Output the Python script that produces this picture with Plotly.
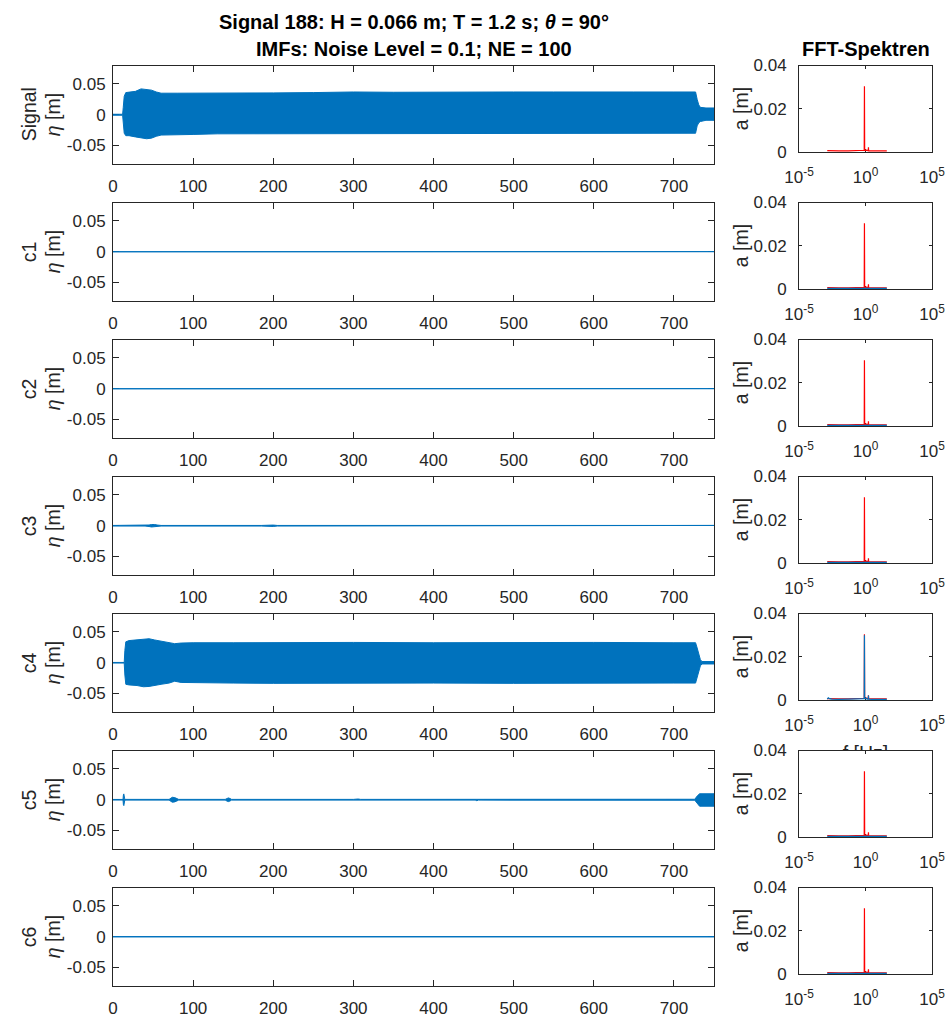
import plotly.graph_objects as go

# ---------------------------------------------------------------- figure setup
W, H = 946, 1019
BLUE = "#0072BD"
RED = "#FF0000"
AX = "#262626"
FONT = "Liberation Sans, Arial, Helvetica, sans-serif"

# ---------------------------------------------------------------- data
row_names = ["Signal", "c1", "c2", "c3", "c4", "c5", "c6"]

time_ticks = [0, 100, 200, 300, 400, 500, 600, 700]
eta_ticks = [-0.05, 0, 0.05]
eta_ticktext = ["-0.05", "0", "0.05"]
amp_ticks = [0, 0.02, 0.04]
amp_ticktext = ["0", "0.02", "0.04"]
freq_ticks = [1e-5, 1, 1e5]
freq_ticktext = ["10<sup>-5</sup>", "10<sup>0</sup>", "10<sup>5</sup>"]

# envelopes (upper / lower) of the surface elevation time series, t in s, eta in m
sig_t = [0, 12, 12.8, 14, 16, 20, 28, 35, 42, 48, 54, 60, 80, 100, 130, 160, 200, 250,
         300, 350, 400, 450, 500, 550, 600, 650, 700, 727, 729, 731, 733, 740, 750]
sig_hi = [0.0008, 0.0008, 0.012, 0.030, 0.036, 0.037, 0.038, 0.042, 0.041, 0.040, 0.037,
          0.035, 0.035, 0.035, 0.0345, 0.035, 0.0355, 0.036, 0.037, 0.0365, 0.037, 0.0375,
          0.037, 0.037, 0.0365, 0.037, 0.037, 0.037, 0.025, 0.016, 0.012, 0.011, 0.011]
sig_lo = [-0.0008, -0.0008, -0.012, -0.030, -0.034, -0.034, -0.036, -0.037, -0.039, -0.038,
          -0.035, -0.033, -0.032, -0.032, -0.031, -0.031, -0.031, -0.030, -0.030, -0.031,
          -0.0305, -0.031, -0.0305, -0.030, -0.0305, -0.030, -0.030, -0.030, -0.018, -0.013,
          -0.011, -0.009, -0.009]

c1_t = [0, 750]
c1_hi = [0.0002, 0.0002]
c1_lo = [-0.0002, -0.0002]

c2_t = [0, 750]
c2_hi = [0.0002, 0.0002]
c2_lo = [-0.0002, -0.0002]

c3_t = [0, 40, 45, 48, 50, 52, 55, 60, 185, 190, 195, 200, 205, 750]
c3_hi = [0.0005, 0.0005, 0.0012, 0.002, 0.0025, 0.002, 0.0012, 0.0005, 0.0005, 0.0011,
         0.0009, 0.0011, 0.0005, 0.0005]
c3_lo = [-0.0005, -0.0005, -0.0012, -0.002, -0.0025, -0.002, -0.0012, -0.0005, -0.0005,
         -0.0011, -0.0009, -0.0011, -0.0005, -0.0005]

c4_t = [0, 14, 14.8, 16, 20, 30, 38, 45, 52, 60, 70, 77, 85, 100, 150, 200, 300, 400,
        500, 600, 700, 727, 729, 731, 733, 735, 750]
c4_hi = [0.0005, 0.0005, 0.020, 0.034, 0.036, 0.037, 0.039, 0.039, 0.037, 0.035, 0.033,
         0.031, 0.032, 0.0325, 0.0325, 0.033, 0.033, 0.0325, 0.033, 0.033, 0.0325, 0.0325,
         0.024, 0.014, 0.005, 0.002, 0.002]
c4_lo = [-0.0005, -0.0005, -0.020, -0.035, -0.036, -0.037, -0.039, -0.0385, -0.037,
         -0.035, -0.033, -0.030, -0.032, -0.033, -0.033, -0.0335, -0.0335, -0.033, -0.0335,
         -0.0335, -0.033, -0.033, -0.024, -0.014, -0.005, -0.002, -0.002]

c5_t = [0, 12.5, 13, 13.5, 14.5, 15, 70, 72, 74, 77, 80, 82, 140, 142, 144, 146, 148,
        300, 303, 306, 309, 320, 323, 326, 330, 452, 454, 456, 726, 729, 732, 750]
c5_hi = [0.0005, 0.0005, 0.008, 0.0095, 0.002, 0.0006, 0.0006, 0.002, 0.004, 0.0035,
         0.002, 0.0006, 0.0006, 0.002, 0.003, 0.002, 0.0006, 0.0006, 0.0015, 0.0012,
         0.0006, 0.0006, 0.0015, 0.0012, 0.0006, 0.0006, 0.0015, 0.0006, 0.0008, 0.006,
         0.0097, 0.0097]
c5_lo = [-0.0005, -0.0005, -0.008, -0.0095, -0.002, -0.0006, -0.0006, -0.002, -0.004,
         -0.0035, -0.002, -0.0006, -0.0006, -0.002, -0.003, -0.002, -0.0006, -0.0006,
         -0.0015, -0.0012, -0.0006, -0.0006, -0.0015, -0.0012, -0.0006, -0.0006, -0.0015,
         -0.0006, -0.0008, -0.006, -0.0105, -0.0105]

c6_t = [0, 10, 11, 12, 13, 736, 737, 738, 739, 750]
c6_hi = [0.0003, 0.0003, 0.0012, 0.0012, 0.0003, 0.0003, 0.0012, 0.0012, 0.0003, 0.0003]
c6_lo = [-0.0003, -0.0003, -0.0012, -0.0012, -0.0003, -0.0003, -0.0012, -0.0012,
         -0.0003, -0.0003]

# FFT amplitude spectra, f in Hz, a in m
f_sig = [0.00133, 0.003, 0.01, 0.05, 0.2, 0.6, 0.80, 0.833, 0.866, 1.1, 1.3, 1.62, 1.667,
         1.72, 3, 10, 40]
a_sig = [0.0006, 0.0005, 0.0005, 0.0005, 0.0005, 0.0006, 0.0008, 0.0304, 0.0008, 0.0009,
         0.0006, 0.0006, 0.0022, 0.0006, 0.0005, 0.0005, 0.0005]

f_c4 = [0.00133, 0.0016, 0.002, 0.003, 0.01, 0.05, 0.2, 0.6, 0.80, 0.833, 0.866, 1.1, 1.3,
        1.62, 1.667, 1.72, 3, 10, 40]
a_c4 = [0.0004, 0.0010, 0.0006, 0.0004, 0.0003, 0.0003, 0.0003, 0.0004, 0.0006, 0.0300,
        0.0006, 0.0008, 0.0004, 0.0004, 0.0021, 0.0004, 0.0003, 0.0003, 0.0003]

f_imf = [0.00133, 40]
a_c1 = [0.0003, 0.0003]
a_c2 = [0.0003, 0.0003]
a_c3 = [0.0003, 0.0003]
a_c5 = [0.0003, 0.0003]
a_c6 = [0.0003, 0.0003]

envelopes = [(sig_t, sig_hi, sig_lo), (c1_t, c1_hi, c1_lo), (c2_t, c2_hi, c2_lo),
             (c3_t, c3_hi, c3_lo), (c4_t, c4_hi, c4_lo), (c5_t, c5_hi, c5_lo),
             (c6_t, c6_hi, c6_lo)]
imf_spectra = [None, (f_imf, a_c1), (f_imf, a_c2), (f_imf, a_c3), (f_c4, a_c4),
               (f_imf, a_c5), (f_imf, a_c6)]

# ---------------------------------------------------------------- geometry (pixels)
LEFT_X0, LEFT_X1 = 113, 714
RIGHT_X0, RIGHT_X1 = 799, 932
ROW_TOP0, ROW_STEP = 65.5, 137.0
LEFT_H, RIGHT_H = 98.5, 86.5


def px_x(p):
    return p / W


def px_y(p):
    return 1 - p / H


fig = go.Figure()
layout = dict(
    width=W, height=H, autosize=False, template="none",
    margin=dict(l=0, r=0, t=0, b=0, pad=0),
    paper_bgcolor="white", plot_bgcolor="white",
    showlegend=False,
    font=dict(family=FONT, color=AX, size=17),
)
annotations = []

axis_common = dict(
    showline=True, linecolor=AX, linewidth=1, mirror="ticks", ticks="inside",
    tickcolor=AX, tickwidth=1, showgrid=False, zeroline=False, automargin=False,
    tickfont=dict(family=FONT, size=17, color=AX), fixedrange=True,
    layer="below traces",
)

for i, name in enumerate(row_names):
    top = ROW_TOP0 + i * ROW_STEP
    nl, nr = 2 * i + 1, 2 * i + 2
    sl, sr = ("" if nl == 1 else str(nl)), str(nr)

    # time series envelope drawn as a filled band
    t, hi, lo = envelopes[i]
    fig.add_trace(go.Scatter(
        x=list(t) + list(t)[::-1], y=list(hi) + list(lo)[::-1],
        mode="lines", fill="toself", fillcolor=BLUE,
        line=dict(color=BLUE, width=1), hoverinfo="skip",
        xaxis="x" + sl, yaxis="y" + sl,
    ))

    # spectra: signal in red, IMF in blue on top
    fig.add_trace(go.Scatter(
        x=f_sig, y=a_sig, mode="lines", line=dict(color=RED, width=1.2),
        hoverinfo="skip", xaxis="x" + sr, yaxis="y" + sr,
    ))
    if imf_spectra[i] is not None:
        fi, ai = imf_spectra[i]
        fig.add_trace(go.Scatter(
            x=fi, y=ai, mode="lines", line=dict(color=BLUE, width=1.2),
            hoverinfo="skip", xaxis="x" + sr, yaxis="y" + sr,
        ))

    layout["xaxis" + sl] = dict(
        axis_common, domain=[px_x(LEFT_X0), px_x(LEFT_X1)], anchor="y" + sl,
        range=[0, 750], tickvals=time_ticks, ticklen=6, ticklabelstandoff=7,
    )
    layout["yaxis" + sl] = dict(
        axis_common, domain=[px_y(top + LEFT_H), px_y(top)], anchor="x" + sl,
        range=[-0.08, 0.08], tickvals=eta_ticks, ticktext=eta_ticktext, ticklen=6,
        ticklabelstandoff=3,
    )
    layout["xaxis" + sr] = dict(
        axis_common, type="log", domain=[px_x(RIGHT_X0), px_x(RIGHT_X1)],
        anchor="y" + sr, range=[-5, 5], tickvals=freq_ticks, ticktext=freq_ticktext,
        ticklen=3, ticklabelstandoff=10,
    )
    layout["yaxis" + sr] = dict(
        axis_common, domain=[px_y(top + RIGHT_H), px_y(top)], anchor="x" + sr,
        range=[0, 0.04], tickvals=amp_ticks, ticktext=amp_ticktext, ticklen=3,
        ticklabelstandoff=8,
    )

    # y labels
    yc_left = px_y(top + LEFT_H / 2)
    yc_right = px_y(top + RIGHT_H / 2)
    annotations.append(dict(
        text=name, x=px_x(28.5), y=yc_left, xref="paper", yref="paper",
        xanchor="center", yanchor="middle", textangle=-90, showarrow=False,
        font=dict(family=FONT, size=19.5, color=AX),
    ))
    annotations.append(dict(
        text="<i>η</i> [m]", x=px_x(52.5), y=yc_left, xref="paper", yref="paper",
        xanchor="center", yanchor="middle", textangle=-90, showarrow=False,
        font=dict(family=FONT, size=19.5, color=AX),
    ))
    annotations.append(dict(
        text="a [m]", x=px_x(740.5), y=yc_right, xref="paper", yref="paper",
        xanchor="center", yanchor="middle", textangle=-90, showarrow=False,
        font=dict(family=FONT, size=19.5, color=AX),
    ))

# frequency axis label of the c4 spectrum, mostly hidden behind the next spectrum axes
c4_top = ROW_TOP0 + 4 * ROW_STEP
c5_top = ROW_TOP0 + 5 * ROW_STEP
clip_y0, clip_y1 = c4_top + RIGHT_H + 30, c5_top  # pixel band that stays visible
fig.add_trace(go.Scatter(
    x=[0.5], y=[-5.0 / (clip_y1 - clip_y0)], mode="text", text=["f [Hz]"],
    textposition="middle center", cliponaxis=True, hoverinfo="skip",
    textfont=dict(family=FONT, size=19.5, color=AX),
    xaxis="x15", yaxis="y15",
))
layout["xaxis15"] = dict(domain=[px_x(RIGHT_X0), px_x(RIGHT_X1)], anchor="y15",
                         range=[0, 1], visible=False, fixedrange=True)
layout["yaxis15"] = dict(domain=[px_y(clip_y1), px_y(clip_y0)], anchor="x15",
                         range=[0, 1], visible=False, fixedrange=True)

# titles
annotations.append(dict(
    text="<b>Signal 188: H = 0.066 m; T = 1.2 s; <i>θ</i> = 90°</b>",
    x=px_x((LEFT_X0 + LEFT_X1) / 2), y=px_y(22), xref="paper", yref="paper",
    xanchor="center", yanchor="middle", showarrow=False,
    font=dict(family=FONT, size=20, color="black"),
))
annotations.append(dict(
    text="<b>IMFs: Noise Level = 0.1; NE = 100</b>",
    x=px_x((LEFT_X0 + LEFT_X1) / 2), y=px_y(49.5), xref="paper", yref="paper",
    xanchor="center", yanchor="middle", showarrow=False,
    font=dict(family=FONT, size=20, color="black"),
))
annotations.append(dict(
    text="<b>FFT-Spektren</b>",
    x=px_x((RIGHT_X0 + RIGHT_X1) / 2), y=px_y(49.5), xref="paper", yref="paper",
    xanchor="center", yanchor="middle", showarrow=False,
    font=dict(family=FONT, size=20, color="black"),
))

layout["annotations"] = annotations
fig.update_layout(**layout)
fig.write_html("out.html")
